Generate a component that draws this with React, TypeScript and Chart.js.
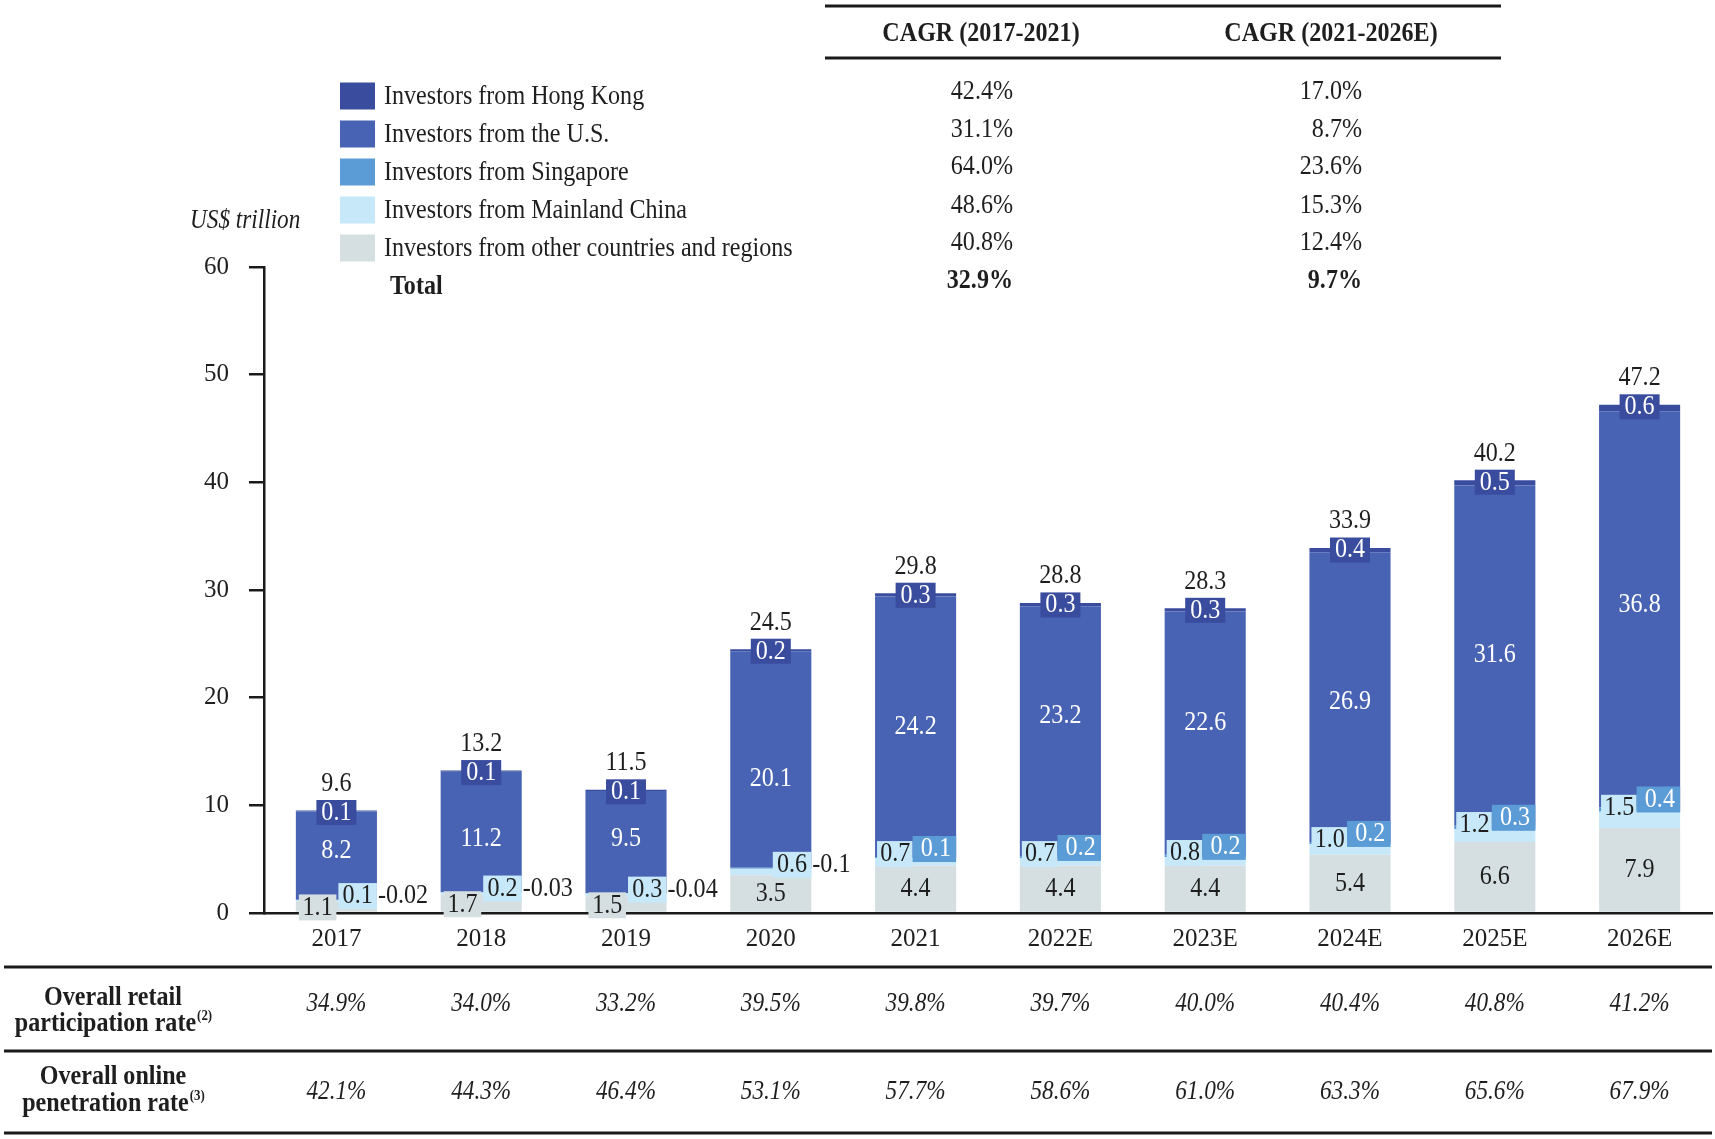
import React, { useEffect, useRef } from "react";
import { Chart, registerables } from "chart.js";

Chart.register(...registerables);

// ---------------- data ----------------
const categories = ["2017", "2018", "2019", "2020", "2021", "2022E", "2023E", "2024E", "2025E", "2026E"];
const otherRegions = [1.1, 1.7, 1.5, 3.5, 4.4, 4.4, 4.4, 5.4, 6.6, 7.9];
const mainlandChina = [0.1, 0.2, 0.3, 0.6, 0.7, 0.7, 0.8, 1.0, 1.2, 1.5];
const singapore = [0.02, 0.03, 0.04, 0.1, 0.1, 0.2, 0.2, 0.2, 0.3, 0.4];
const unitedStates = [8.2, 11.2, 9.5, 20.1, 24.2, 23.2, 22.6, 26.9, 31.6, 36.8];
const hongKong = [0.1, 0.1, 0.1, 0.2, 0.3, 0.3, 0.3, 0.4, 0.5, 0.6];
const totals = [9.6, 13.2, 11.5, 24.5, 29.8, 28.8, 28.3, 33.9, 40.2, 47.2];

const seriesNames = [
  "Investors from other countries and regions",
  "Investors from Mainland China",
  "Investors from Singapore",
  "Investors from the U.S.",
  "Investors from Hong Kong",
];
const seriesColors = ["#d5dfe1", "#c6e8f8", "#5b9bd6", "#4863b3", "#3a4c9e"];

const cagrHeaders = ["CAGR (2017-2021)", "CAGR (2021-2026E)"];
// rows: Hong Kong, U.S., Singapore, Mainland China, Other, Total
const cagr2017to2021 = ["42.4%", "31.1%", "64.0%", "48.6%", "40.8%", "32.9%"];
const cagr2021to2026 = ["17.0%", "8.7%", "23.6%", "15.3%", "12.4%", "9.7%"];

const retailParticipation = ["34.9%", "34.0%", "33.2%", "39.5%", "39.8%", "39.7%", "40.0%", "40.4%", "40.8%", "41.2%"];
const onlinePenetration = ["42.1%", "44.3%", "46.4%", "53.1%", "57.7%", "58.6%", "61.0%", "63.3%", "65.6%", "67.9%"];

const yMax = 60;
const yStep = 10;
const yTitle = "US$ trillion";

// label placement tweaks (pixels) for the U.S. value labels, as placed in the source
const usLabelShift = [-5, 7, -3, 19, 0, -15, -11, 5, -1, -5];

// ---------------- drawing helpers ----------------
const FONT = '"Liberation Serif", "Times New Roman", serif';
const SX = 0.86;

type TOpts = { size?: number; weight?: string; italic?: boolean; color?: string; align?: CanvasTextAlign };

function font(o: TOpts) {
  return `${o.italic ? "italic " : ""}${o.weight || "normal"} ${o.size || 28}px ${FONT}`;
}

function drawText(ctx: CanvasRenderingContext2D, s: string, x: number, y: number, o: TOpts = {}) {
  ctx.save();
  ctx.font = font(o);
  ctx.fillStyle = o.color || "#1e1e1e";
  ctx.textBaseline = "middle";
  ctx.textAlign = o.align || "left";
  ctx.translate(x, y);
  ctx.scale(SX, 1);
  ctx.fillText(s, 0, 0);
  ctx.restore();
}

function textWidth(ctx: CanvasRenderingContext2D, s: string, o: TOpts) {
  ctx.save();
  ctx.font = font(o);
  const w = ctx.measureText(s).width * SX;
  ctx.restore();
  return w;
}

function box(ctx: CanvasRenderingContext2D, x0: number, x1: number, cy: number, h: number, fill: string) {
  ctx.save();
  ctx.fillStyle = fill;
  ctx.fillRect(x0, cy - h / 2, x1 - x0, h);
  ctx.restore();
}

function hline(ctx: CanvasRenderingContext2D, x0: number, x1: number, y: number, w = 3) {
  ctx.save();
  ctx.strokeStyle = "#1a1a1a";
  ctx.lineWidth = w;
  ctx.beginPath();
  ctx.moveTo(x0, y);
  ctx.lineTo(x1, y);
  ctx.stroke();
  ctx.restore();
}

function fmt(v: number) {
  return v < 0.1 ? v.toFixed(2) : v.toFixed(1);
}

function supLabel(ctx: CanvasRenderingContext2D, main: string, sup: string, cx: number, cy: number) {
  const mo: TOpts = { size: 28, weight: "bold" };
  const so: TOpts = { size: 15, weight: "bold" };
  const w1 = textWidth(ctx, main, mo);
  const w2 = textWidth(ctx, sup, so);
  const start = cx - (w1 + w2) / 2;
  drawText(ctx, main, start, cy, mo);
  drawText(ctx, sup, start + w1 + 1, cy - 8, so);
}

const COMPACT_COUNT = 4; // early years where small segments are labelled beside the bar

const overlayPlugin = {
  id: "overlay",
  afterDraw(chart: any) {
    const ctx: CanvasRenderingContext2D = chart.ctx;
    const x = chart.scales.x;

    // ----- y axis title -----
    drawText(ctx, yTitle, 190, 221, { size: 27, italic: true });

    // ----- legend (top to bottom: HK, US, SG, China, Other) -----
    const ds = chart.data.datasets;
    const legendRows = [96, 134, 172, 210, 248];
    for (let k = 0; k < ds.length; k++) {
      const d = ds[ds.length - 1 - k];
      const cy = legendRows[k];
      box(ctx, 340, 375, cy, 27, d.backgroundColor);
      drawText(ctx, d.label, 384, cy + 1, { size: 28 });
    }
    drawText(ctx, "Total", 390, 287, { size: 28, weight: "bold" });

    // ----- CAGR table -----
    hline(ctx, 825, 1501, 6, 3);
    hline(ctx, 825, 1501, 58, 3);
    drawText(ctx, cagrHeaders[0], 981, 34, { size: 28, weight: "bold", align: "center" });
    drawText(ctx, cagrHeaders[1], 1331, 34, { size: 28, weight: "bold", align: "center" });
    const valueRows = [92, 130, 167, 206, 243, 281];
    for (let r = 0; r < valueRows.length; r++) {
      const bold = r === valueRows.length - 1;
      drawText(ctx, cagr2017to2021[r], 1013, valueRows[r], { size: 28, weight: bold ? "bold" : "normal", align: "right" });
      drawText(ctx, cagr2021to2026[r], 1362, valueRows[r], { size: 28, weight: bold ? "bold" : "normal", align: "right" });
    }

    // ----- bar labels -----
    const mOther = chart.getDatasetMeta(0).data;
    const mChina = chart.getDatasetMeta(1).data;
    const mSg = chart.getDatasetMeta(2).data;
    const mUs = chart.getDatasetMeta(3).data;
    const mHk = chart.getDatasetMeta(4).data;
    for (let j = 0; j < categories.length; j++) {
      const cx = mUs[j].x;
      const half = mUs[j].width / 2;
      const left = cx - half;
      const right = cx + half;
      const compact = j < COMPACT_COUNT;

      // total
      drawText(ctx, totals[j].toFixed(1), cx, mHk[j].y - 27, { size: 28, align: "center" });
      // Hong Kong box
      const hkY = mHk[j].y + 2;
      box(ctx, cx - 20, cx + 20, hkY, 25, seriesColors[4]);
      drawText(ctx, fmt(hongKong[j]), cx, hkY, { size: 28, color: "#ffffff", align: "center" });
      // U.S.
      drawText(ctx, fmt(unitedStates[j]), cx, (mUs[j].y + mUs[j].base) / 2 + usLabelShift[j], {
        size: 28,
        color: "#ffffff",
        align: "center",
      });

      // Mainland China
      const chY = mChina[j].y - 4;
      if (compact) {
        box(ctx, cx + 2, right, chY, 26, seriesColors[1]);
        drawText(ctx, fmt(mainlandChina[j]), (cx + 2 + right) / 2, chY, { size: 28, align: "center" });
        // Singapore outside
        drawText(ctx, "-" + fmt(singapore[j]), right + 1, chY, { size: 28 });
      } else {
        box(ctx, left + 2, cx - 3, chY, 26, seriesColors[1]);
        drawText(ctx, fmt(mainlandChina[j]), (left + cx) / 2, chY, { size: 28, align: "center" });
        const sgY = mSg[j].y - 8;
        box(ctx, cx - 3, right, sgY, 26, seriesColors[2]);
        drawText(ctx, fmt(singapore[j]), (cx + right) / 2, sgY, { size: 28, color: "#ffffff", align: "center" });
      }

      // Other
      const otY = (mOther[j].y + mOther[j].base) / 2;
      if (j < 3) {
        box(ctx, left + 3, cx, otY + 1, 26, seriesColors[0]);
        drawText(ctx, fmt(otherRegions[j]), (left + 3 + cx) / 2, otY + 1, { size: 28, align: "center" });
      } else {
        drawText(ctx, fmt(otherRegions[j]), cx, otY, { size: 28, align: "center" });
      }
    }

    // ----- bottom table -----
    hline(ctx, 4, 1712, 967, 3);
    hline(ctx, 4, 1712, 1051, 3);
    hline(ctx, 4, 1712, 1133, 3);
    drawText(ctx, "Overall retail", 113, 998, { size: 28, weight: "bold", align: "center" });
    supLabel(ctx, "participation rate", "(2)", 113, 1024);
    drawText(ctx, "Overall online", 113, 1077, { size: 28, weight: "bold", align: "center" });
    supLabel(ctx, "penetration rate", "(3)", 113, 1104);
    for (let j = 0; j < categories.length; j++) {
      const px = x.getPixelForValue(j);
      drawText(ctx, retailParticipation[j], px, 1004, { size: 27, italic: true, align: "center" });
      drawText(ctx, onlinePenetration[j], px, 1092, { size: 27, italic: true, align: "center" });
    }
  },
};

export default function App() {
  const ref = useRef<HTMLCanvasElement>(null);
  useEffect(() => {
    const seriesData = [otherRegions, mainlandChina, singapore, unitedStates, hongKong];
    const chart = new Chart(ref.current as HTMLCanvasElement, {
      type: "bar",
      data: {
        labels: categories,
        datasets: seriesData.map((d, i) => ({
          label: seriesNames[i],
          data: d,
          backgroundColor: seriesColors[i],
          borderWidth: 0,
          barPercentage: 0.56,
          categoryPercentage: 1,
        })),
      },
      options: {
        responsive: false,
        devicePixelRatio: 1,
        animation: false,
        layout: { padding: { top: 267, right: 3, left: 0, bottom: 0 } },
        plugins: { legend: { display: false }, tooltip: { enabled: false } },
        scales: {
          x: {
            stacked: true,
            grid: { display: false },
            border: { display: true, color: "#1a1a1a", width: 2.5 },
            ticks: { color: "#1e1e1e", padding: 3, font: { family: FONT, size: 25 } },
            afterFit: (s: any) => {
              s.height = 226;
            },
          },
          y: {
            stacked: true,
            min: 0,
            max: yMax,
            grid: { display: true, drawOnChartArea: false, drawTicks: true, tickLength: 15, color: "#1a1a1a", lineWidth: 2.5 },
            border: { display: true, color: "#1a1a1a", width: 2.5 },
            ticks: { stepSize: yStep, color: "#1e1e1e", padding: 20, font: { family: FONT, size: 25 } },
            afterFit: (s: any) => {
              s.width = 264;
            },
          },
        },
      },
      plugins: [overlayPlugin],
    } as any);
    return () => chart.destroy();
  }, []);
  return (
    <div style={{ position: "absolute", left: 0, top: 0, width: 1715, height: 1139, background: "#ffffff" }}>
      <canvas ref={ref} width={1715} height={1139} style={{ display: "block", width: 1715, height: 1139 }} />
    </div>
  );
}
